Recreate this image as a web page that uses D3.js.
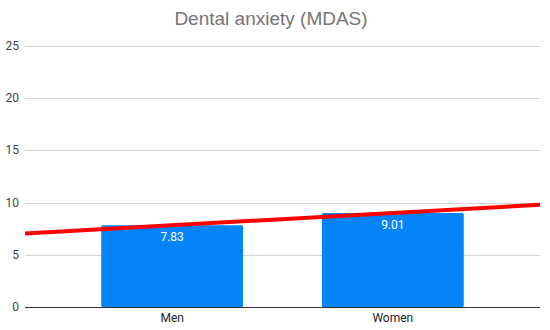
<!DOCTYPE html>
<html>
  <script src="https://cdn.jsdelivr.net/npm/d3@7"></script>
  <body style="margin:0">
    <script>
var width = 550;
var height = 330;

var categories = ['Men', 'Women'];
var values = [7.83, 9.01];
var yTicks = [0, 5, 10, 15, 20, 25];

var svg = d3.select('body').append('svg')
  .attr('width', width)
  .attr('height', height)
  .style('font-family', 'Roboto, Arial, sans-serif');

svg.append('rect')
  .attr('width', width)
  .attr('height', height)
  .attr('fill', '#fff');

var plotLeft = 25, plotRight = 540, plotTop = 46, plotBottom = 307;

var y = d3.scaleLinear().domain([0, 25]).range([plotBottom, plotTop]);
var x = d3.scaleBand().domain(categories).range([61.5, 503.5])
  .paddingInner(0.357).paddingOuter(0.18);

// Title
svg.append('text')
  .attr('x', 271)
  .attr('y', 25)
  .attr('text-anchor', 'middle')
  .attr('font-size', 19)
  .attr('font-family', 'Arial, "Liberation Sans", sans-serif')
  .attr('fill', '#757575')
  .text('Dental anxiety (MDAS)');

// Gridlines
svg.append('g').selectAll('line')
  .data(yTicks)
  .enter().append('line')
    .attr('x1', plotLeft).attr('x2', plotRight)
    .attr('y1', function(d) { return Math.round(y(d)) + 0.5; })
    .attr('y2', function(d) { return Math.round(y(d)) + 0.5; })
    .attr('stroke', function(d) { return d === 0 ? '#333' : '#d4d4d4'; })
    .attr('stroke-width', 1);

// Y tick labels
svg.append('g').selectAll('text')
  .data(yTicks)
  .enter().append('text')
    .attr('x', 19)
    .attr('y', function(d) { return y(d) + 4; })
    .attr('text-anchor', 'end')
    .attr('font-size', 12)
    .attr('fill', '#444')
    .text(function(d) { return d; });

// Bars
var barData = categories.map(function(c, i) { return {cat: c, val: values[i]}; });

svg.append('g').selectAll('rect')
  .data(barData)
  .enter().append('rect')
    .attr('x', function(d) { return x(d.cat); })
    .attr('y', function(d) { return y(d.val); })
    .attr('width', x.bandwidth())
    .attr('height', function(d) { return plotBottom - y(d.val); })
    .attr('rx', 1.5)
    .attr('fill', '#0584f7');

// Bar value labels
svg.append('g').selectAll('text')
  .data(barData)
  .enter().append('text')
    .attr('x', function(d) { return x(d.cat) + x.bandwidth() / 2; })
    .attr('y', function(d) { return y(d.val) + 16; })
    .attr('text-anchor', 'middle')
    .attr('font-size', 12)
    .attr('fill', '#fff')
    .text(function(d) { return d.val.toFixed(2); });

// Category labels
svg.append('g').selectAll('text')
  .data(categories)
  .enter().append('text')
    .attr('x', function(d) { return x(d) + x.bandwidth() / 2; })
    .attr('y', 322)
    .attr('text-anchor', 'middle')
    .attr('font-size', 12)
    .attr('fill', '#222')
    .text(function(d) { return d; });

// Linear trendline (least squares over category index)
var idx = values.map(function(v, i) { return i + 1; });
var mx = d3.mean(idx), my = d3.mean(values);
var slope = d3.sum(idx, function(d, i) { return (d - mx) * (values[i] - my); }) /
  d3.sum(idx, function(d) { return (d - mx) * (d - mx); });
var intercept = my - slope * mx;

var xIdx = d3.scaleLinear()
  .domain([1, 2])
  .range([x(categories[0]) + x.bandwidth() / 2, x(categories[1]) + x.bandwidth() / 2]);

var trend = [xIdx.invert(plotLeft), xIdx.invert(plotRight)].map(function(t) {
  return [xIdx(t), y(intercept + slope * t)];
});

svg.append('path')
  .attr('d', d3.line()(trend))
  .attr('stroke', '#ff0000')
  .attr('stroke-width', 4)
  .attr('fill', 'none');
    </script>
  </body>
</html>
